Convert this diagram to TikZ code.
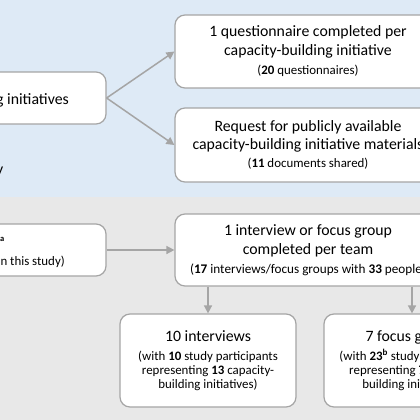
\documentclass[tikz,border=0pt]{standalone}
\usepackage{fontspec}
\setmainfont{Carlito}
\usetikzlibrary{arrows.meta}
\definecolor{bandblue}{RGB}{222,234,246}
\definecolor{bandgray}{RGB}{232,232,232}
\definecolor{linegray}{RGB}{165,165,165}
\newcommand{\bigtxt}{\fontsize{15.8}{19}\selectfont}
\newcommand{\smalltxt}{\fontsize{12.9}{14}\selectfont}
\newcommand{\smallertxt}{\fontsize{13.2}{14}\selectfont}
\begin{document}
\begin{tikzpicture}[x=1pt,y=-1pt,
 box/.style={draw=linegray, line width=1.2pt, fill=white, rounded corners=10pt, align=center, inner sep=0pt, font=\bigtxt},
 lbl/.style={inner sep=0pt, text=black},
 conn/.style={draw=linegray, line width=1.5pt, -{Triangle[length=8pt,width=8pt]}}]
\useasboundingbox (0,0) rectangle (420,420);
\clip (0,0) rectangle (420,420);
\fill[bandblue] (0,0) rectangle (420,197);
\fill[bandgray] (0,197) rectangle (420,420);
% top band
\node[box, minimum width=206pt, minimum height=52pt] (init) at (3,98) {};
\node[lbl, font=\bigtxt, anchor=base east] (inittxt) at (69,104) {g initiatives};
\node[lbl, font=\bigtxt, anchor=base east] (ytxt) at (3.5,174) {y};
\node[box, minimum width=266pt, minimum height=73pt] (q) at (308,51.5)
  {1 questionnaire completed per\\capacity-building initiative\\{\smalltxt(\textbf{20} questionnaires)}};
\node[box, minimum width=266pt, minimum height=74pt] (req) at (308,145)
  {Request for publicly available\\[-1pt]capacity-building initiative materials\\[-1pt]{\smalltxt(\textbf{11} documents shared)}};
% bottom band
\node[box, minimum width=206pt, minimum height=52pt] (team) at (3,250) {};
\node[lbl, font={\fontsize{8.5}{10}\selectfont\bfseries}, anchor=base east] (atxt) at (4.5,241) {a};
\node[lbl, font=\smalltxt, anchor=base east] (studytxt) at (65,265) {in this study)};
\node[box, minimum width=266pt, minimum height=72pt] (fg) at (308,250)
  {1 interview or focus group\\completed per team\\{\smallertxt(\textbf{17} interviews/focus groups with \textbf{33} people)}};
\node[box, minimum width=176pt, minimum height=93pt] (int) at (208,360.5)
  {10 interviews\\{\smalltxt(with \textbf{10} study participants}\\[-5pt]{\smalltxt representing \textbf{13} capacity-}\\[-5pt]{\smalltxt building initiatives)}};
\node[box, minimum width=176pt, minimum height=93pt] (fgs) at (412,360.5)
  {7 focus groups\\{\smalltxt(with \textbf{23}\textsuperscript{\textbf{b}} study participants}\\[-5pt]{\smalltxt representing \textbf{7} capacity-}\\[-5pt]{\smalltxt building initiatives)}};
% connectors
\draw[conn] (init.east) -- (q.west);
\draw[conn] (init.east) -- (req.west);
\draw[conn] (team.east) -- (fg.west);
\draw[conn] (int.north |- fg.south) -- (int.north);
\draw[conn] (fgs.north |- fg.south) -- (fgs.north);
\end{tikzpicture}
\end{document}
